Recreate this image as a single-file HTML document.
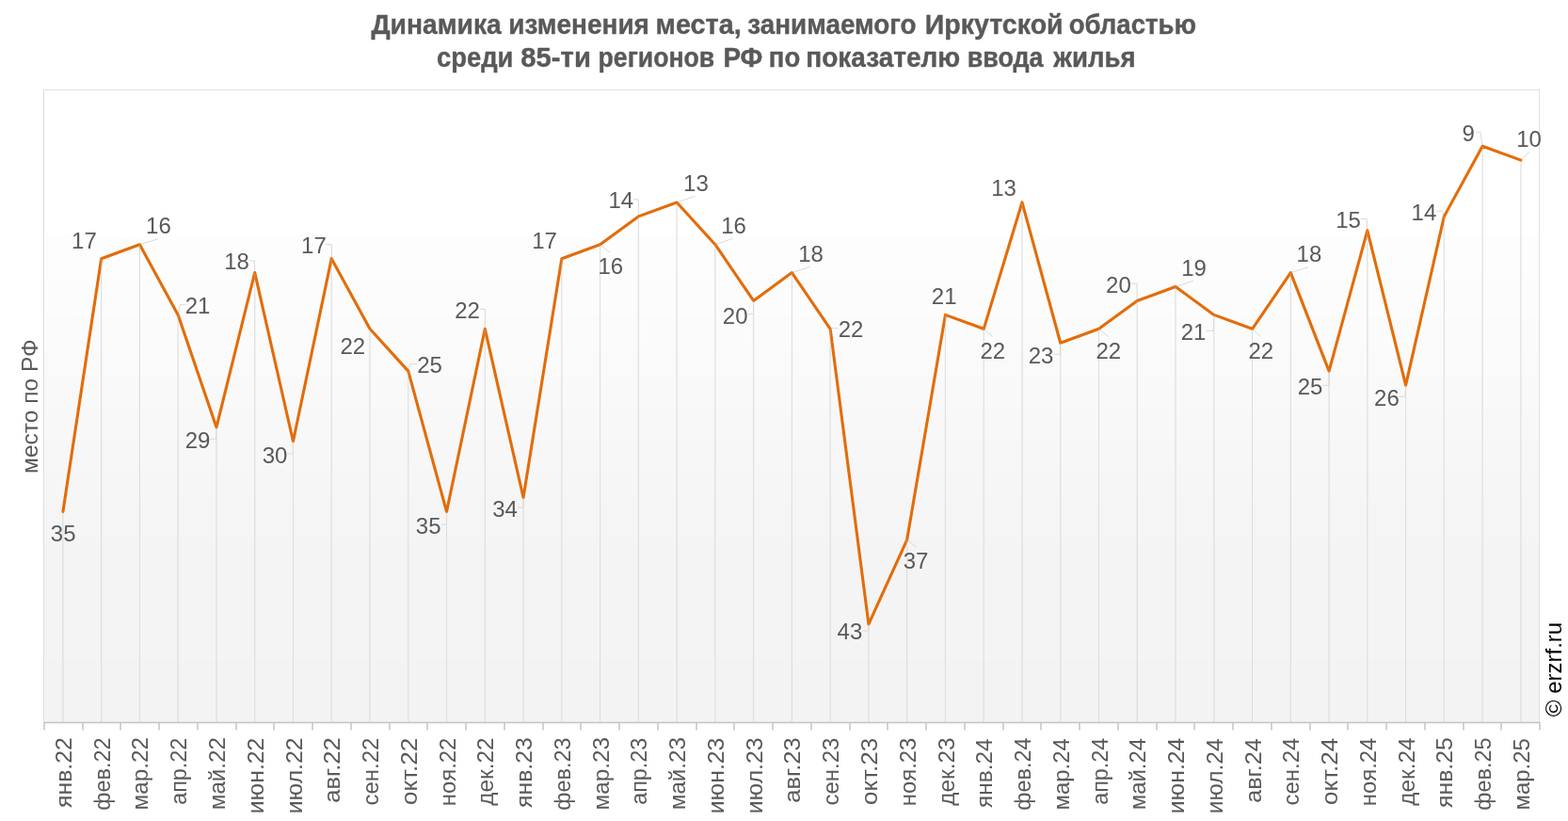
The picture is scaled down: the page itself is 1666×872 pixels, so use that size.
<!DOCTYPE html>
<html lang="ru"><head><meta charset="utf-8"><title>Динамика изменения места</title>
<style>
html,body{margin:0;padding:0;background:#fff;}
body{width:1666px;height:872px;overflow:hidden;}
svg{display:block;}
text{font-family:"Liberation Sans",sans-serif;}
.tt{font-weight:bold;font-size:29px;fill:#595959;text-anchor:start;stroke:#595959;stroke-width:0.4px;stroke-linejoin:round;}
.dl{font-size:24px;fill:#595959;text-anchor:middle;}
.xl{font-size:24px;fill:#595959;text-anchor:end;}
.yl{font-size:24px;fill:#595959;text-anchor:middle;}
.cr{font-size:24px;fill:#000;text-anchor:start;}
</style></head><body>
<svg width="1666" height="872" viewBox="0 0 1666 872">
<rect x="0" y="0" width="1666" height="872" fill="#fff"/>
<rect x="46.45" y="95.5" width="1589.15" height="153.50" fill="#ffffff"/>
<rect x="46.45" y="249" width="1589.15" height="46.00" fill="#fdfdfd"/>
<rect x="46.45" y="295" width="1589.15" height="41.00" fill="#fcfcfc"/>
<rect x="46.45" y="336" width="1589.15" height="36.00" fill="#fbfbfb"/>
<rect x="46.45" y="372" width="1589.15" height="29.00" fill="#fafafa"/>
<rect x="46.45" y="401" width="1589.15" height="34.00" fill="#f9f9f9"/>
<rect x="46.45" y="435" width="1589.15" height="32.00" fill="#f8f8f8"/>
<rect x="46.45" y="467" width="1589.15" height="31.00" fill="#f7f7f7"/>
<rect x="46.45" y="498" width="1589.15" height="32.00" fill="#f6f6f6"/>
<rect x="46.45" y="530" width="1589.15" height="42.00" fill="#f5f5f5"/>
<rect x="46.45" y="572" width="1589.15" height="129.00" fill="#f4f4f4"/>
<rect x="46.45" y="701" width="1589.15" height="66.40" fill="#f3f3f3"/>
<rect x="46.45" y="95.5" width="1589.15" height="671.9" fill="none" stroke="#dedede" stroke-width="1"/>
<path d="M66.89 543.43V767.4M107.65 274.67V767.4M148.42 259.74V767.4M189.18 334.40V767.4M229.94 453.85V767.4M270.71 289.60V767.4M311.47 468.78V767.4M352.24 274.67V767.4M393.00 349.33V767.4M433.76 394.12V767.4M474.53 543.43V767.4M515.29 349.33V767.4M556.05 528.50V767.4M596.82 274.67V767.4M637.58 259.74V767.4M678.34 229.88V767.4M719.11 214.95V767.4M759.87 259.74V767.4M800.63 319.47V767.4M841.40 289.60V767.4M882.16 349.33V767.4M922.93 662.88V767.4M963.69 573.30V767.4M1004.45 334.40V767.4M1045.22 349.33V767.4M1085.98 214.95V767.4M1126.74 364.26V767.4M1167.51 349.33V767.4M1208.27 319.47V767.4M1249.03 304.54V767.4M1289.80 334.40V767.4M1330.56 349.33V767.4M1371.33 289.60V767.4M1412.09 394.12V767.4M1452.85 244.81V767.4M1493.62 409.05V767.4M1534.38 229.88V767.4M1575.14 155.22V767.4M1615.91 170.16V767.4" stroke="#dddddd" stroke-width="1" fill="none"/>
<path d="M148.42 259.74L168.00 253.75M189.18 334.40L191.25 323.75L197.50 323.25M223.25 466.25L229.50 466.25L229.94 453.85M264.50 277.00L270.50 277.00L270.71 289.60M305.50 482.00L311.25 482.00L311.47 468.78M346.25 259.50L352.50 259.50L352.24 274.67M433.76 394.12L435.50 387.00L442.50 386.25M468.75 557.00L474.50 557.00L474.53 543.43M510.00 328.25L515.50 328.25L515.29 349.33M550.00 539.00L556.25 539.00L556.05 528.50M637.58 259.74L648.00 268.00M673.00 211.75L678.25 211.75L678.34 229.88M719.11 214.95L738.75 208.25M759.87 259.74L778.75 253.25M794.50 333.75L800.50 333.75L800.63 319.47M841.40 289.60L860.75 283.25M882.16 349.33L883.50 348.30L890.50 348.75M916.25 670.00L922.50 670.00L922.93 662.88M963.69 573.30L973.75 581.25M1045.22 349.33L1054.50 357.50M1120.00 376.25L1126.25 376.25L1126.74 364.26M1167.51 349.33L1177.50 357.50M1201.75 301.25L1208.00 301.25L1208.27 319.47M1249.03 304.54L1268.00 298.25M1281.25 351.25L1289.25 351.25L1289.80 334.40M1330.56 349.33L1339.25 357.50M1371.33 289.60L1390.00 283.75M1405.75 409.25L1412.00 409.25L1412.09 394.12M1445.75 232.50L1452.00 232.50L1452.85 244.81M1486.75 421.25L1493.00 421.25L1493.62 409.05M1526.25 224.25L1532.50 224.25L1534.38 229.88M1568.00 140.00L1573.00 140.50L1575.14 155.22M1615.91 170.16L1625.00 161.25" stroke="#d9d9d9" stroke-width="1" fill="none"/>
<polyline points="66.89,543.43 107.65,274.67 148.42,259.74 189.18,334.40 229.94,453.85 270.71,289.60 311.47,468.78 352.24,274.67 393.00,349.33 433.76,394.12 474.53,543.43 515.29,349.33 556.05,528.50 596.82,274.67 637.58,259.74 678.34,229.88 719.11,214.95 759.87,259.74 800.63,319.47 841.40,289.60 882.16,349.33 922.93,662.88 963.69,573.30 1004.45,334.40 1045.22,349.33 1085.98,214.95 1126.74,364.26 1167.51,349.33 1208.27,319.47 1249.03,304.54 1289.80,334.40 1330.56,349.33 1371.33,289.60 1412.09,394.12 1452.85,244.81 1493.62,409.05 1534.38,229.88 1575.14,155.22 1615.91,170.16" fill="none" stroke="#e36c0a" stroke-width="3.1" stroke-linejoin="round" stroke-linecap="round"/>
<path d="M66.89 543.43V767.4M107.65 274.67V767.4M148.42 259.74V767.4M189.18 334.40V767.4M229.94 453.85V767.4M270.71 289.60V767.4M311.47 468.78V767.4M352.24 274.67V767.4M393.00 349.33V767.4M433.76 394.12V767.4M474.53 543.43V767.4M515.29 349.33V767.4M556.05 528.50V767.4M596.82 274.67V767.4M637.58 259.74V767.4M678.34 229.88V767.4M719.11 214.95V767.4M759.87 259.74V767.4M800.63 319.47V767.4M841.40 289.60V767.4M882.16 349.33V767.4M922.93 662.88V767.4M963.69 573.30V767.4M1004.45 334.40V767.4M1045.22 349.33V767.4M1085.98 214.95V767.4M1126.74 364.26V767.4M1167.51 349.33V767.4M1208.27 319.47V767.4M1249.03 304.54V767.4M1289.80 334.40V767.4M1330.56 349.33V767.4M1371.33 289.60V767.4M1412.09 394.12V767.4M1452.85 244.81V767.4M1493.62 409.05V767.4M1534.38 229.88V767.4M1575.14 155.22V767.4M1615.91 170.16V767.4" stroke="#dddddd" stroke-opacity="0.3" stroke-width="1" fill="none"/>
<path d="M47.0 767.4H1636.1M47 767.4V775.4M88 767.4V775.4M128 767.4V775.4M169 767.4V775.4M210 767.4V775.4M251 767.4V775.4M291 767.4V775.4M332 767.4V775.4M373 767.4V775.4M414 767.4V775.4M454 767.4V775.4M495 767.4V775.4M536 767.4V775.4M577 767.4V775.4M617 767.4V775.4M658 767.4V775.4M699 767.4V775.4M740 767.4V775.4M780 767.4V775.4M821 767.4V775.4M862 767.4V775.4M903 767.4V775.4M943 767.4V775.4M984 767.4V775.4M1025 767.4V775.4M1066 767.4V775.4M1106 767.4V775.4M1147 767.4V775.4M1188 767.4V775.4M1229 767.4V775.4M1269 767.4V775.4M1310 767.4V775.4M1351 767.4V775.4M1392 767.4V775.4M1432 767.4V775.4M1473 767.4V775.4M1514 767.4V775.4M1555 767.4V775.4M1595 767.4V775.4M1636 767.4V775.4" stroke="#c4c4c4" stroke-width="1.5" fill="none"/>
<text class="dl" x="67.2" y="575.0">35</text>
<text class="dl" x="89.4" y="264.1">17</text>
<text class="dl" x="168.4" y="247.9">16</text>
<text class="dl" x="210.0" y="333.1">21</text>
<text class="dl" x="210.0" y="476.1">29</text>
<text class="dl" x="251.6" y="286.1">18</text>
<text class="dl" x="292.0" y="492.0">30</text>
<text class="dl" x="333.4" y="269.1">17</text>
<text class="dl" x="374.8" y="375.6">22</text>
<text class="dl" x="456.5" y="396.0">25</text>
<text class="dl" x="455.2" y="567.0">35</text>
<text class="dl" x="496.6" y="337.6">22</text>
<text class="dl" x="536.5" y="549.1">34</text>
<text class="dl" x="578.6" y="264.1">17</text>
<text class="dl" x="648.8" y="290.7">16</text>
<text class="dl" x="659.8" y="220.6">14</text>
<text class="dl" x="739.4" y="202.9">13</text>
<text class="dl" x="779.6" y="247.9">16</text>
<text class="dl" x="781.2" y="343.6">20</text>
<text class="dl" x="861.6" y="277.9">18</text>
<text class="dl" x="904.1" y="357.7">22</text>
<text class="dl" x="902.9" y="679.1">43</text>
<text class="dl" x="973.1" y="603.9">37</text>
<text class="dl" x="1003.2" y="323.1">21</text>
<text class="dl" x="1054.8" y="381.0">22</text>
<text class="dl" x="1066.6" y="207.9">13</text>
<text class="dl" x="1106.0" y="386.0">23</text>
<text class="dl" x="1177.8" y="381.0">22</text>
<text class="dl" x="1188.4" y="311.4">20</text>
<text class="dl" x="1268.6" y="292.9">19</text>
<text class="dl" x="1268.0" y="360.9">21</text>
<text class="dl" x="1339.8" y="380.8">22</text>
<text class="dl" x="1390.9" y="278.4">18</text>
<text class="dl" x="1392.1" y="418.9">25</text>
<text class="dl" x="1432.6" y="242.1">15</text>
<text class="dl" x="1473.4" y="431.0">26</text>
<text class="dl" x="1512.9" y="234.4">14</text>
<text class="dl" x="1560.3" y="150.1">9</text>
<text class="dl" x="1624.6" y="156.1">10</text>
<text class="xl" transform="translate(75.9 784.7) rotate(-90)" x="1.42" textLength="74.65" lengthAdjust="spacingAndGlyphs">янв.22</text>
<text class="xl" transform="translate(116.7 784.7) rotate(-90)" x="1.19" textLength="77.16" lengthAdjust="spacingAndGlyphs">фев.22</text>
<text class="xl" transform="translate(157.4 784.7) rotate(-90)" x="1.58" textLength="77.4" lengthAdjust="spacingAndGlyphs">мар.22</text>
<text class="xl" transform="translate(198.2 784.7) rotate(-90)" x="1.03" textLength="71.11" lengthAdjust="spacingAndGlyphs">апр.22</text>
<text class="xl" transform="translate(238.9 784.7) rotate(-90)" x="1.64" textLength="77.15" lengthAdjust="spacingAndGlyphs">май.22</text>
<text class="xl" transform="translate(279.7 784.7) rotate(-90)" x="1.07" textLength="80.63" lengthAdjust="spacingAndGlyphs">июн.22</text>
<text class="xl" transform="translate(320.5 784.7) rotate(-90)" x="1.29" textLength="80.86" lengthAdjust="spacingAndGlyphs">июл.22</text>
<text class="xl" transform="translate(361.2 784.7) rotate(-90)" x="1.38" textLength="69.44" lengthAdjust="spacingAndGlyphs">авг.22</text>
<text class="xl" transform="translate(402.0 784.7) rotate(-90)" x="0.97" textLength="71.76" lengthAdjust="spacingAndGlyphs">сен.22</text>
<text class="xl" transform="translate(442.8 784.7) rotate(-90)" x="0.88" textLength="71.26" lengthAdjust="spacingAndGlyphs">окт.22</text>
<text class="xl" transform="translate(483.5 784.7) rotate(-90)" x="0.96" textLength="72.45" lengthAdjust="spacingAndGlyphs">ноя.22</text>
<text class="xl" transform="translate(524.3 784.7) rotate(-90)" x="1.24" textLength="72.24" lengthAdjust="spacingAndGlyphs">дек.22</text>
<text class="xl" transform="translate(565.1 784.7) rotate(-90)" x="1.42" textLength="74.65" lengthAdjust="spacingAndGlyphs">янв.23</text>
<text class="xl" transform="translate(605.8 784.7) rotate(-90)" x="1.19" textLength="77.16" lengthAdjust="spacingAndGlyphs">фев.23</text>
<text class="xl" transform="translate(646.6 784.7) rotate(-90)" x="1.58" textLength="77.4" lengthAdjust="spacingAndGlyphs">мар.23</text>
<text class="xl" transform="translate(687.3 784.7) rotate(-90)" x="1.03" textLength="71.11" lengthAdjust="spacingAndGlyphs">апр.23</text>
<text class="xl" transform="translate(728.1 784.7) rotate(-90)" x="1.64" textLength="77.15" lengthAdjust="spacingAndGlyphs">май.23</text>
<text class="xl" transform="translate(768.9 784.7) rotate(-90)" x="1.07" textLength="80.63" lengthAdjust="spacingAndGlyphs">июн.23</text>
<text class="xl" transform="translate(809.6 784.7) rotate(-90)" x="1.29" textLength="80.86" lengthAdjust="spacingAndGlyphs">июл.23</text>
<text class="xl" transform="translate(850.4 784.7) rotate(-90)" x="1.38" textLength="69.44" lengthAdjust="spacingAndGlyphs">авг.23</text>
<text class="xl" transform="translate(891.2 784.7) rotate(-90)" x="0.97" textLength="71.76" lengthAdjust="spacingAndGlyphs">сен.23</text>
<text class="xl" transform="translate(931.9 784.7) rotate(-90)" x="0.88" textLength="71.26" lengthAdjust="spacingAndGlyphs">окт.23</text>
<text class="xl" transform="translate(972.7 784.7) rotate(-90)" x="0.96" textLength="72.45" lengthAdjust="spacingAndGlyphs">ноя.23</text>
<text class="xl" transform="translate(1013.5 784.7) rotate(-90)" x="1.24" textLength="72.24" lengthAdjust="spacingAndGlyphs">дек.23</text>
<text class="xl" transform="translate(1054.2 784.7) rotate(-90)" x="0.38" textLength="73.6" lengthAdjust="spacingAndGlyphs">янв.24</text>
<text class="xl" transform="translate(1095.0 784.7) rotate(-90)" x="1.19" textLength="77.16" lengthAdjust="spacingAndGlyphs">фев.24</text>
<text class="xl" transform="translate(1135.7 784.7) rotate(-90)" x="0.56" textLength="76.36" lengthAdjust="spacingAndGlyphs">мар.24</text>
<text class="xl" transform="translate(1176.5 784.7) rotate(-90)" x="1.03" textLength="71.11" lengthAdjust="spacingAndGlyphs">апр.24</text>
<text class="xl" transform="translate(1217.3 784.7) rotate(-90)" x="0.62" textLength="76.11" lengthAdjust="spacingAndGlyphs">май.24</text>
<text class="xl" transform="translate(1258.0 784.7) rotate(-90)" x="1.07" textLength="80.63" lengthAdjust="spacingAndGlyphs">июн.24</text>
<text class="xl" transform="translate(1298.8 784.7) rotate(-90)" x="0.25" textLength="79.79" lengthAdjust="spacingAndGlyphs">июл.24</text>
<text class="xl" transform="translate(1339.6 784.7) rotate(-90)" x="0.31" textLength="68.36" lengthAdjust="spacingAndGlyphs">авг.24</text>
<text class="xl" transform="translate(1380.3 784.7) rotate(-90)" x="0.97" textLength="71.76" lengthAdjust="spacingAndGlyphs">сен.24</text>
<text class="xl" transform="translate(1421.1 784.7) rotate(-90)" x="0.88" textLength="71.26" lengthAdjust="spacingAndGlyphs">окт.24</text>
<text class="xl" transform="translate(1461.9 784.7) rotate(-90)" x="0.96" textLength="72.45" lengthAdjust="spacingAndGlyphs">ноя.24</text>
<text class="xl" transform="translate(1502.6 784.7) rotate(-90)" x="1.24" textLength="72.24" lengthAdjust="spacingAndGlyphs">дек.24</text>
<text class="xl" transform="translate(1543.4 784.7) rotate(-90)" x="1.42" textLength="74.65" lengthAdjust="spacingAndGlyphs">янв.25</text>
<text class="xl" transform="translate(1584.1 784.7) rotate(-90)" x="1.19" textLength="77.16" lengthAdjust="spacingAndGlyphs">фев.25</text>
<text class="xl" transform="translate(1624.9 784.7) rotate(-90)" x="0.56" textLength="76.36" lengthAdjust="spacingAndGlyphs">мар.25</text>
<text class="yl" transform="translate(39.6 431.6) rotate(-90)" textLength="142.6" lengthAdjust="spacingAndGlyphs">место по РФ</text>
<text class="cr" transform="translate(1658.6 761.2) rotate(-90)" >© erzrf.ru</text>
<text class="tt" y="36.2"><tspan x="394.4" textLength="138.36" lengthAdjust="spacingAndGlyphs">Динамика</tspan> <tspan x="540.37" textLength="149.57" lengthAdjust="spacingAndGlyphs">изменения</tspan> <tspan x="696.61" textLength="91.09" lengthAdjust="spacingAndGlyphs">места,</tspan> <tspan x="794.34" textLength="179.19" lengthAdjust="spacingAndGlyphs">занимаемого</tspan> <tspan x="982.73" textLength="146.92" lengthAdjust="spacingAndGlyphs">Иркутской</tspan> <tspan x="1135.65" textLength="135.37" lengthAdjust="spacingAndGlyphs">областью</tspan></text>
<text class="tt" y="71.2"><tspan x="463.96" textLength="81.44" lengthAdjust="spacingAndGlyphs">среди</tspan> <tspan x="553.39" textLength="74.47" lengthAdjust="spacingAndGlyphs">85-ти</tspan> <tspan x="635.56" textLength="123.65" lengthAdjust="spacingAndGlyphs">регионов</tspan> <tspan x="768.38" textLength="42.01" lengthAdjust="spacingAndGlyphs">РФ</tspan> <tspan x="816.81" textLength="33.36" lengthAdjust="spacingAndGlyphs">по</tspan> <tspan x="856.37" textLength="163.92" lengthAdjust="spacingAndGlyphs">показателю</tspan> <tspan x="1027.75" textLength="80.7" lengthAdjust="spacingAndGlyphs">ввода</tspan> <tspan x="1119.3" textLength="87.29" lengthAdjust="spacingAndGlyphs">жилья</tspan></text>
</svg>
</body></html>
